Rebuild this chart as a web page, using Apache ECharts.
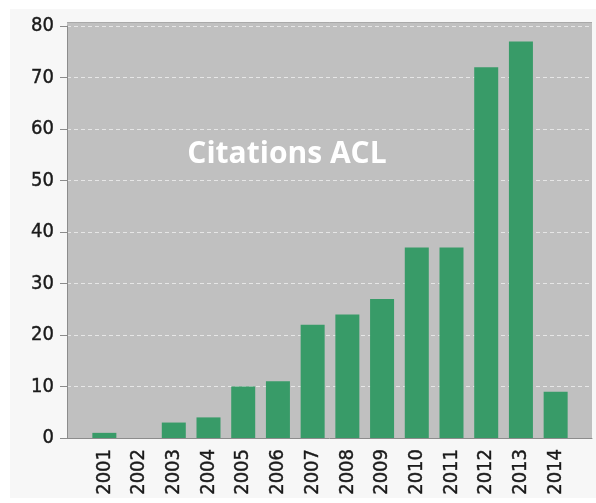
<!DOCTYPE html>
<html>
<head>
<meta charset="utf-8">
<script src="https://cdn.jsdelivr.net/npm/echarts@6/dist/echarts.min.js"></script>
<style>
html,body{margin:0;padding:0;background:#fff;}
#chart{width:596px;height:503px;}
</style>
</head>
<body>
<div id="chart"></div>
<script>
var years = ['2001','2002','2003','2004','2005','2006','2007','2008','2009','2010','2011','2012','2013','2014'];
var citations = [1, 0, 3, 4, 10, 11, 22, 24, 27, 37, 37, 72, 77, 9];
var yMin = 0, yMax = 80, yStep = 10;
var titleText = 'Citations ACL';

var chart = echarts.init(document.getElementById('chart'), null, {renderer: 'canvas'});
var labelFont = '"DejaVu Sans Condensed", "DejaVu Sans", sans-serif';
chart.setOption({
  backgroundColor: '#ffffff',
  animation: false,
  graphic: [
    {type: 'rect', z: -100, shape: {x: 10, y: 9, width: 586, height: 489}, style: {fill: '#f7f7f7'}},
    {type: 'rect', z: -50, shape: {x: 67, y: 22, width: 525, height: 5}, style: {fill: '#c0c0c0'}},
    {type: 'line', z: -40, shape: {x1: 67, y1: 22.5, x2: 592, y2: 22.5}, style: {stroke: '#a9a9a9', lineWidth: 1}},
    {type: 'text', z: 100, x: 287, y: 154, style: {text: titleText, fill: '#ffffff', font: 'bold 30px "Open Sans", sans-serif', textAlign: 'center', textVerticalAlign: 'middle'}}
  ],
  grid: [
    {left: 67, right: 4, top: 26, bottom: 65, show: true, backgroundColor: '#c0c0c0', borderWidth: 0},
    {left: 87, right: 23, top: 26, bottom: 65}
  ],
  xAxis: [
    {gridIndex: 0, type: 'value', min: 0, max: 1, axisLabel: {show: false}, axisTick: {show: false}, splitLine: {show: false},
     axisLine: {show: true, lineStyle: {color: '#8c8c8c', width: 1}}},
    {gridIndex: 1, type: 'category', data: years, axisLine: {show: false}, axisTick: {show: false},
     axisLabel: {rotate: 90, margin: 11, color: '#1a1a1a', fontSize: 20, fontFamily: labelFont, interval: 0,
                 textBorderColor: '#1a1a1a', textBorderWidth: 0.4}}
  ],
  yAxis: [
    {gridIndex: 0, type: 'value', min: yMin, max: yMax, interval: yStep,
     axisLine: {show: true, lineStyle: {color: '#8c8c8c', width: 1}},
     axisTick: {show: true, length: 7, lineStyle: {color: '#8c8c8c'}},
     axisLabel: {margin: 13, color: '#1a1a1a', fontSize: 20, fontFamily: labelFont,
                 textBorderColor: '#1a1a1a', textBorderWidth: 0.4},
     splitLine: {show: true, lineStyle: {color: '#e6e6e6', type: [4, 3], width: 1}}},
    {gridIndex: 1, type: 'value', min: yMin, max: yMax, interval: yStep, show: false, splitLine: {show: false}}
  ],
  series: [
    {type: 'bar', xAxisIndex: 1, yAxisIndex: 1, data: citations, barWidth: 24,
     itemStyle: {color: '#389b68'}}
  ]
});
</script>
</body>
</html>
